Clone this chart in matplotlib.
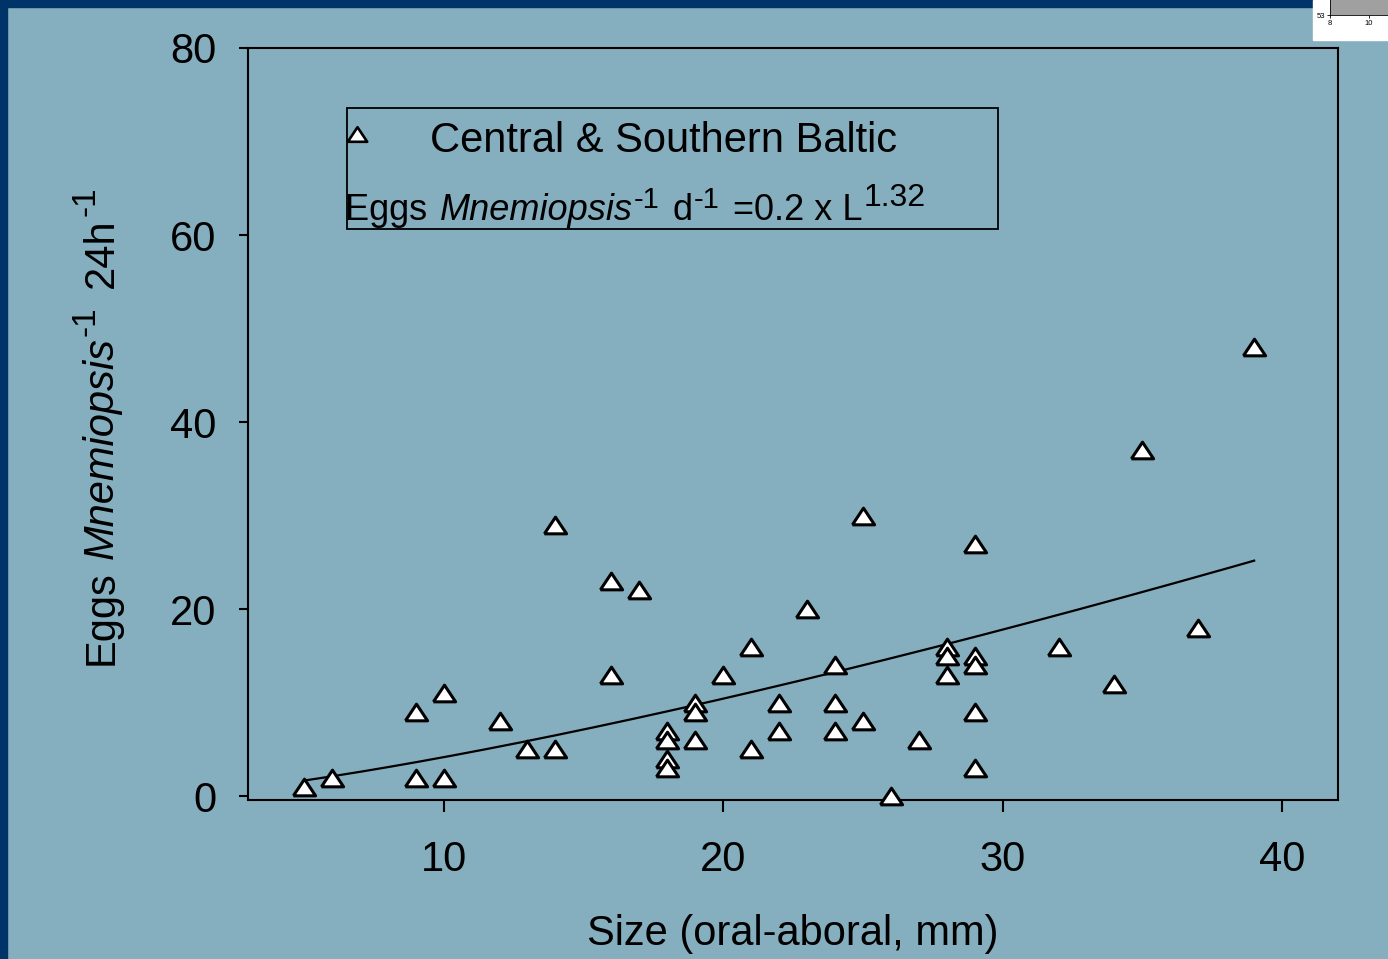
import numpy as np
import matplotlib
matplotlib.use("Agg")
import matplotlib.pyplot as plt
from matplotlib.patches import Rectangle

plt.rcParams["font.family"] = ["Liberation Sans", "DejaVu Sans"]

# Size (oral-aboral, mm) and eggs per Mnemiopsis per 24 h
size_mm = [5, 6, 9, 9, 10, 10, 12, 13, 14, 14,
           16, 16, 17, 18, 18, 18, 18, 19, 19, 19,
           20, 21, 21, 22, 22, 23, 24, 24, 24, 25,
           25, 26, 27, 28, 28, 28, 29, 29, 29, 29,
           29, 32, 34, 35, 37, 39]
eggs = [1, 2, 9, 2, 11, 2, 8, 5, 5, 29,
        23, 13, 22, 7, 6, 4, 3, 10, 9, 6,
        13, 16, 5, 10, 7, 20, 14, 10, 7, 30,
        8, 0, 6, 16, 15, 13, 27, 15, 14, 9,
        3, 16, 12, 37, 18, 48]

# fitted power law shown in the legend
fit_a = 0.2
fit_b = 1.32
fit_range = (5, 39)

x_ticks = [10, 20, 30, 40]
y_ticks = [0, 20, 40, 60, 80]
series_label = "Central & Southern Baltic"

bg = "#85AEBF"
border = "#003468"
tri = [(-1, -0.75), (1, -0.75), (0, 0.75), (-1, -0.75)]


def rich_text(ax, x, y, pieces, transform, rotation=0):
    """Chain text runs (text, size, style, rise_pt, gap_pt) one after another."""
    prev = None
    for txt, size, style, rise, gap in pieces:
        if prev is None:
            xy, coords = (x, y), transform
        elif rotation == 0:
            xy, coords = (1, y), (prev, transform)
        else:
            xy, coords = (x, 1), (transform, prev)
        offset = (gap, rise) if rotation == 0 else (-rise, gap)
        prev = ax.annotate(txt, xy=xy, xycoords=coords, xytext=offset,
                           textcoords="offset points", fontsize=size,
                           fontstyle=style, ha="left", va="baseline",
                           rotation=rotation, rotation_mode="anchor",
                           annotation_clip=False)
    return prev


fig = plt.figure(figsize=(13.88, 9.59), dpi=100, facecolor=bg)

# dark frame on the left and top
fig.patches.append(Rectangle((0, 0), 7 / 1388, 1, transform=fig.transFigure,
                             color=border, zorder=0))
fig.patches.append(Rectangle((0, 1 - 7 / 959), 1, 7 / 959, transform=fig.transFigure,
                             color=border, zorder=0))
# small white thumbnail in the top right corner
fig.patches.append(Rectangle((1313 / 1388, 1 - 40 / 959), 75 / 1388, 40 / 959,
                             transform=fig.transFigure, color="white", zorder=1))

ax = fig.add_axes([248 / 1388, 1 - 800 / 959, 1090 / 1388, 752 / 959])
ax.set_facecolor(bg)

lx = np.linspace(fit_range[0], fit_range[1], 200)
ax.plot(lx, fit_a * lx ** fit_b, color="black", lw=1.6, zorder=2)
ax.plot(size_mm, eggs, linestyle="none", marker=tri, markersize=16,
        markerfacecolor="white", markeredgecolor="black", markeredgewidth=2.2,
        zorder=3, clip_on=False)

ax.set_xlim(3, 42)
ax.set_ylim(-0.4, 80)
ax.set_xticks(x_ticks)
ax.set_yticks(y_ticks)
for s in ax.spines.values():
    s.set_linewidth(1.5)
ax.tick_params(axis="x", direction="out", length=8.5, width=1.5, pad=20,
               labelsize=30, top=False)
ax.tick_params(axis="y", direction="out", length=6.5, width=1.5, pad=16,
               labelsize=30, right=False)

ax.set_xlabel("Size (oral-aboral, mm)", fontsize=30)
ax.xaxis.set_label_coords(0.5, -0.152)

# y label with superscripts
rich_text(ax, 113 / 1388, 1 - 665 / 959, [
    ("Eggs", 30, "normal", 0, 0),
    ("Mnemiopsis", 30, "italic", 0, 8),
    ("-1", 24, "normal", 13, 1),
    ("24h", 30, "normal", 0, 13),
    ("-1", 24, "normal", 13, 2),
], fig.transFigure, rotation=90)

# legend box
ax.add_patch(Rectangle((0.0908, 0.759), 0.597, 0.161, transform=ax.transAxes,
                       fill=False, edgecolor="black", lw=1.3, zorder=4))
ax.plot([0.100], [0.886], transform=ax.transAxes, linestyle="none", marker=tri,
        markersize=14, markerfacecolor="white", markeredgecolor="black",
        markeredgewidth=1.9, zorder=5)
ax.text(0.167, 0.862, series_label, transform=ax.transAxes, fontsize=30,
        va="baseline", ha="left")
rich_text(ax, 0.089, 0.771, [
    ("Eggs", 26, "normal", 0, 0),
    ("Mnemiopsis", 26, "italic", 0, 9),
    ("-1", 21, "normal", 9, 0.5),
    ("d", 26, "normal", 0, 10),
    ("-1", 21, "normal", 9, 0.5),
    ("=0.2 x L", 26, "normal", 0, 10),
    ("1.32", 23, "normal", 10, 0.5),
], ax.transAxes)

# thumbnail axes
tax = fig.add_axes([1330 / 1388, 1 - 15 / 959, 58 / 1388, 30 / 959], zorder=3)
tax.set_facecolor("#A0A0A0")
tax.set_xlim(8, 11)
tax.set_ylim(53, 60)
tax.set_xticks([8, 10])
tax.set_yticks([53])
tax.tick_params(labelsize=5.5, length=2.5, width=0.6, pad=1)
for s in tax.spines.values():
    s.set_linewidth(0.6)

fig.savefig("out.png", dpi=100, facecolor=bg)
